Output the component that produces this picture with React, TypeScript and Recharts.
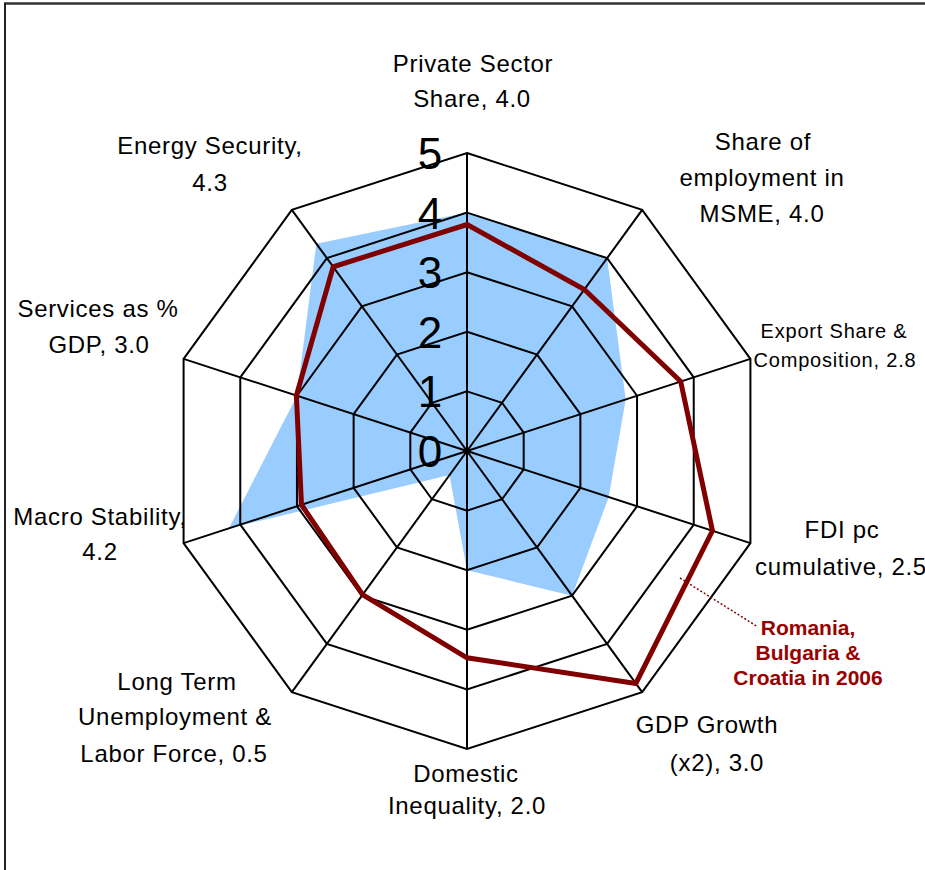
import React from 'react';
import { RadarChart, Radar, PolarGrid, PolarAngleAxis, PolarRadiusAxis } from 'recharts';

const categories = [
  'Private Sector Share',
  'Share of employment in MSME',
  'Export Share & Composition',
  'FDI pc cumulative',
  'GDP Growth (x2)',
  'Domestic Inequality',
  'Long Term Unemployment & Labor Force',
  'Macro Stability',
  'Services as % GDP',
  'Energy Security',
];
const countryScores = [4.0, 4.0, 2.8, 2.5, 3.0, 2.0, 0.5, 4.2, 3.0, 4.3];
const benchmarkScores = [3.8, 3.35, 3.77, 4.33, 4.82, 3.47, 2.98, 2.92, 3.01, 3.82];
const radiusTicks = [0, 1, 2, 3, 4, 5];
const categoryLabelLines = [
  ['Private Sector', 'Share, 4.0'],
  ['Share of', 'employment in', 'MSME, 4.0'],
  ['Export Share &', 'Composition, 2.8'],
  ['FDI pc', 'cumulative, 2.5'],
  ['GDP Growth', '(x2), 3.0'],
  ['Domestic', 'Inequality, 2.0'],
  ['Long Term', 'Unemployment &', 'Labor Force, 0.5'],
  ['Macro Stability,', '4.2'],
  ['Services as %', 'GDP, 3.0'],
  ['Energy Security,', '4.3'],
];
const benchmarkLabel = ['Romania,', 'Bulgaria &', 'Croatia in 2006'];

const data = categories.map((name, i) => ({
  name,
  country: countryScores[i],
  benchmark: benchmarkScores[i],
}));

// label layout (positions only)
type Lay = { x: number[]; y: number[]; fontSize?: number; ls?: number; anchor?: string[] };
const LABEL_LAYOUT: Lay[] = [
  { x: [473, 472], y: [72, 107] },
  { x: [763, 762, 762], y: [150, 186, 222] },
  { x: [834, 835], y: [338, 367], fontSize: 20, ls: 0.8 },
  { x: [842, 755], y: [538, 575], anchor: ['middle', 'start'] },
  { x: [707, 717], y: [733, 771] },
  { x: [466, 467], y: [782, 814] },
  { x: [177, 175, 174], y: [690, 725, 762] },
  { x: [100, 100], y: [525, 560] },
  { x: [98, 99], y: [317, 353] },
  { x: [210, 210], y: [154, 191] },
];

const FONT = '"Liberation Sans", Arial, sans-serif';

const AngleTick = (props: any) => {
  const { payload, index } = props;
  let i = categories.indexOf(payload?.value);
  if (i < 0) i = index;
  const lines = categoryLabelLines[i];
  const lay = LABEL_LAYOUT[i];
  if (!lines || !lay) return <g />;
  return (
    <g>
      {lines.map((l, k) => (
        <text
          key={k}
          x={lay.x[k]}
          y={lay.y[k]}
          textAnchor={lay.anchor ? lay.anchor[k] : 'middle'}
          fontSize={lay.fontSize ?? 24}
          letterSpacing={lay.ls ?? 0.7}
          fontFamily={FONT}
          fill="#000"
        >
          {l}
        </text>
      ))}
    </g>
  );
};

const RadiusTick = (props: any) => {
  const { x, y, payload } = props;
  return (
    <text x={x - 37} y={y + 16} textAnchor="middle" fontSize={44} fontFamily={FONT} fill="#000">
      {payload.value}
    </text>
  );
};

export default function App() {
  return (
    <div style={{ position: 'absolute', left: 0, top: 0, width: 925, height: 870, background: '#fff' }}>
      <RadarChart
        width={925}
        height={870}
        data={data}
        cx={467}
        cy={451}
        outerRadius={298}
        margin={{ top: 0, right: 0, bottom: 0, left: 0 }}
      >
        <Radar
          dataKey="country"
          fill="#99CCFF"
          fillOpacity={1}
          stroke="none"
          isAnimationActive={false}
          zIndex={100}
        />
        <PolarGrid gridType="polygon" stroke="#000" strokeWidth={2} zIndex={150} />
        <Radar
          dataKey="benchmark"
          fill="none"
          fillOpacity={0}
          stroke="#800000"
          strokeWidth={5}
          isAnimationActive={false}
          zIndex={200}
        />
        <PolarAngleAxis dataKey="name" axisLine={false} tickLine={false} tick={AngleTick} />
        <PolarRadiusAxis
          angle={90}
          domain={[0, 5]}
          ticks={radiusTicks as any}
          tickCount={6}
          axisLine={false}
          tickLine={false}
          tick={RadiusTick}
        />
      </RadarChart>
      <svg
        width={925}
        height={870}
        style={{ position: 'absolute', left: 0, top: 0, pointerEvents: 'none' }}
      >
        <line x1={4} y1={3.5} x2={925} y2={3.5} stroke="#333" strokeWidth={2.5} />
        <line x1={5} y1={3} x2={5} y2={870} stroke="#222" strokeWidth={2} />
        <line x1={680} y1={578} x2={758} y2={627} stroke="#800000" strokeWidth={1.5} strokeDasharray="2 2" />
        {benchmarkLabel.map((l, k) => (
          <text
            key={k}
            x={808}
            y={635 + k * 25}
            textAnchor="middle"
            fontSize={21}
            fontWeight="bold"
            fontFamily={FONT}
            fill="#990000"
          >
            {l}
          </text>
        ))}
      </svg>
    </div>
  );
}
